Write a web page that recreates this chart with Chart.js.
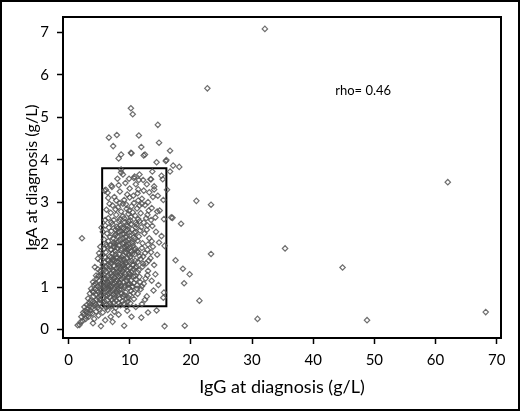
<!DOCTYPE html>
<html>
<head>
<meta charset="utf-8">
<script src="https://cdn.jsdelivr.net/npm/chart.js@4"></script>
<style>
  body { margin: 0; background: #fff; }
  canvas { display: block; }
</style>
</head>
<body>
<canvas id="chart" width="520" height="411"></canvas>
<script>
// IgG (x) vs IgA (y) at diagnosis, g/L
const outliers = [
  [32.1,7.08],[22.7,5.68],[62.0,3.47],[35.4,1.91],[44.8,1.46],[30.9,0.25],[48.8,0.22],[68.2,0.41],
  [23.3,2.94],[20.9,3.03],[23.3,1.78],[21.4,0.68],[19.0,0.09],[15.7,0.08],[2.2,2.15]
];
const upperCloud = [
  [10.2,5.21],[10.5,5.07],[14.6,4.82],[6.6,4.52],[7.9,4.58],[11.5,4.57],[7.3,4.32],[14.8,4.40],
  [11.9,4.30],[10.2,4.16],[12.5,4.12],[8.6,4.12],[8.2,4.03],[16.6,4.21],[14.4,3.94],[16.0,3.99],
  [17.1,3.86],[18.1,3.83],[16.6,3.72],[15.4,3.54],[16.1,3.29],[10.3,4.15],[15.9,3.97],[12.3,4.10]
];
const bandA = [
  [6.1,3.29],[6.4,3.22],[7.1,3.36],[7.0,3.39],[5.9,3.27],[10.0,3.32],[11.4,3.30],[14.0,3.37],
  [14.0,3.30],[12.3,3.27],[11.3,3.21],[13.2,3.23],[7.8,3.04],[10.0,3.11],[11.4,3.04],[13.0,3.00],
  [6.7,2.96],[8.9,2.96],[8.6,3.70],[8.9,3.65],[10.8,3.60],[11.6,3.65],[13.5,3.54],[15.2,3.62],
  [10.7,3.57],[11.5,3.52],[12.2,3.52],[13.4,3.54],[9.3,3.45],[8.2,3.40],[12.8,3.42],[9.6,3.18],
  [8.4,3.25],[10.6,3.15],[12.0,3.08],[9.1,3.05],[14.6,3.15],[7.5,3.12],[11.0,3.42],[9.9,3.55],
  [8.0,3.55],[13.8,3.12],[15.5,3.05],[6.5,3.10],[8.6,3.77],[13.7,3.72]
];
const bandB = [
  [7.2,2.92],[8.1,2.88],[9.4,2.95],[10.3,2.90],[11.2,2.85],[12.5,2.93],[13.6,2.86],[14.5,2.78],
  [6.2,2.82],[6.9,2.75],[7.8,2.70],[8.6,2.78],[9.8,2.72],[10.9,2.68],[11.8,2.74],[12.9,2.70],
  [6.5,2.62],[7.4,2.58],[8.3,2.55],[9.1,2.62],[10.1,2.57],[11.4,2.60],[12.3,2.52],[13.5,2.58],
  [14.2,2.64],[15.6,2.60],[17.0,2.63],[18.4,2.49],[16.8,2.64],[9.5,2.84],[10.7,2.98],[8.9,2.67],
  [11.0,2.52],[7.0,2.52],[12.0,2.96],[13.1,2.80],[9.9,2.80],[8.4,2.98],[10.5,2.76],[6.0,2.58],
  [11.6,2.92],[9.2,2.53],[7.7,2.83],[14.9,2.80],[12.7,2.62]
];
const bandC = [
  [6.0,2.45],[6.6,2.40],[7.2,2.48],[7.9,2.42],[8.5,2.46],[9.0,2.38],[9.7,2.44],[10.4,2.36],
  [11.1,2.47],[11.9,2.41],[12.8,2.35],[13.7,2.44],[5.6,2.30],[6.3,2.26],[7.0,2.32],[7.6,2.22],
  [8.2,2.30],[8.8,2.25],[9.4,2.33],[10.0,2.21],[10.8,2.28],[11.5,2.19],[12.4,2.26],[13.2,2.15],
  [14.3,2.30],[5.8,2.12],[6.5,2.08],[7.3,2.15],[7.9,2.05],[8.5,2.12],[9.1,2.04],[9.8,2.10],
  [10.5,2.02],[11.3,2.09],[12.1,2.03],[13.0,2.00],[14.8,2.05],[8.0,2.38],[9.3,2.18],[10.2,2.48],
  [6.8,2.18],[7.5,2.02],[8.7,2.40],[9.9,2.28],[11.7,2.33],[12.9,2.45],[6.2,2.00],[10.9,2.14],
  [7.7,2.35],[8.9,2.02],[13.6,2.08],[11.0,2.40],[9.5,2.47],[15.2,2.20],[5.4,2.40]
];
const bandD = [
  [5.2,1.95],[5.8,1.90],[6.3,1.96],[6.9,1.88],[7.4,1.97],[8.0,1.92],[8.6,1.86],[9.2,1.94],
  [9.8,1.89],[10.5,1.97],[11.2,1.85],[12.0,1.92],[12.9,1.88],[13.8,1.95],[15.7,1.97],[5.0,1.80],
  [5.5,1.75],[6.1,1.82],[6.7,1.72],[7.2,1.79],[7.8,1.70],[8.3,1.78],[8.9,1.74],[9.5,1.81],
  [10.1,1.71],[10.8,1.77],[11.6,1.73],[12.5,1.80],[13.4,1.68],[14.5,1.76],[4.8,1.67],[5.3,1.62],
  [5.9,1.58],[6.4,1.65],[7.0,1.55],[7.5,1.62],[8.1,1.57],[8.7,1.64],[9.3,1.54],[9.9,1.61],
  [10.6,1.52],[11.3,1.59],[12.2,1.55],[13.1,1.62],[14.0,1.52],[17.5,1.63],[6.0,1.70],[7.6,1.85],
  [8.4,1.66],[9.0,1.52],[10.3,1.84],[11.8,1.66],[6.6,1.53],[7.9,1.60],[9.6,1.68],[10.9,1.62],
  [8.2,1.98],[12.7,1.56],[5.6,1.52],[9.4,1.99],[7.3,1.66],[10.0,1.93],[11.0,1.90],[6.8,1.99],
  [13.5,1.82]
];
const bandE = [
  [4.3,1.47],[4.5,1.27],[4.0,1.12],[4.8,1.42],[5.2,1.38],[5.7,1.45],[6.2,1.36],[6.7,1.48],
  [7.2,1.40],[7.7,1.34],[8.2,1.46],[8.8,1.37],[9.3,1.44],[9.9,1.32],[10.6,1.42],[11.3,1.35],
  [12.1,1.48],[13.0,1.38],[14.2,1.30],[18.7,1.43],[19.8,1.30],[4.6,1.20],[5.0,1.15],[5.5,1.25],
  [6.0,1.18],[6.5,1.28],[7.0,1.14],[7.5,1.23],[8.0,1.16],[8.5,1.27],[9.0,1.12],[9.6,1.22],
  [10.2,1.15],[10.9,1.26],[11.7,1.12],[12.6,1.20],[13.6,1.15],[4.2,1.05],[4.7,1.02],[5.3,1.08],
  [5.8,1.02],[6.3,1.06],[6.8,1.01],[7.3,1.07],[7.8,1.03],[8.4,1.09],[9.2,1.03],[9.8,1.06],
  [10.5,1.01],[11.2,1.04],[12.3,1.08],[14.7,1.05],[18.9,1.09],[6.9,1.32],[7.9,1.45],[8.6,1.18],
  [9.5,1.40],[5.9,1.40],[10.1,1.30],[11.0,1.18],[7.4,1.50],[6.4,1.12],[8.9,1.50],[5.4,1.32],
  [7.1,1.26],[9.7,1.49],[12.9,1.28],[8.1,1.06],[6.1,1.48],[10.7,1.10]
];
const bandF = [
  [3.7,0.96],[3.2,0.73],[2.6,0.53],[3.5,0.85],[3.9,0.90],[4.1,0.78],[4.4,0.95],[4.6,0.70],
  [4.9,0.88],[5.1,0.62],[5.4,0.93],[5.7,0.76],[6.0,0.97],[6.3,0.68],[6.6,0.85],[6.9,0.58],
  [7.2,0.92],[7.5,0.74],[7.9,0.86],[8.2,0.63],[8.6,0.95],[8.9,0.78],[9.3,0.88],[9.7,0.66],
  [10.2,0.91],[10.7,0.72],[11.3,0.84],[12.0,0.60],[12.8,0.78],[13.9,0.92],[15.6,0.87],[15.5,0.75],
  [3.4,0.62],[3.0,0.58],[4.2,0.56],[4.8,0.52],[5.5,0.55],[6.2,0.52],[7.0,0.55],[7.7,0.51],
  [8.5,0.57],[9.5,0.54],[11.0,0.53],[5.2,0.80],[6.5,0.99],[7.4,0.64],[8.0,0.97],[9.0,0.60],
  [10.0,0.81],[5.9,0.66],[4.0,0.66],[6.8,0.76],[8.3,0.73],[9.9,0.98],[11.8,0.95],[4.5,0.82],
  [7.8,0.68],[12.5,0.70]
];
const bandG = [
  [1.5,0.10],[1.8,0.11],[2.1,0.30],[2.3,0.20],[2.5,0.35],[2.8,0.25],[3.0,0.42],[3.3,0.30],
  [3.6,0.45],[3.9,0.38],[4.2,0.25],[4.5,0.42],[4.9,0.33],[5.3,0.08],[5.6,0.40],[6.0,0.22],
  [6.4,0.46],[6.9,0.30],[7.5,0.42],[8.2,0.35],[9.1,0.09],[9.6,0.44],[10.3,0.30],[11.9,0.28],
  [13.0,0.40],[14.4,0.45],[2.0,0.18],[4.0,0.15],[5.0,0.48],[7.2,0.18]
];
const coreExtra = [
  [7.3,0.83],[7.6,1.09],[7.9,1.28],[8.1,1.52],[8.3,0.94],[8.5,1.33],[8.7,1.70],[8.9,2.15],
  [9.1,0.82],[9.2,1.25],[9.4,1.58],[9.6,1.95],[9.8,0.75],[10.0,1.08],[10.1,1.45],[10.3,1.62],
  [10.4,2.05],[10.6,1.25],[10.8,1.88],[11.0,2.30],[7.1,0.70],[7.4,1.38],[7.7,1.77],[8.0,2.20],
  [8.4,2.60],[8.8,0.66],[9.0,1.42],[9.3,1.82],[9.7,2.35],[10.2,2.65],[6.6,0.93],[6.9,1.17],
  [7.2,1.62],[7.5,1.93],[7.8,2.25],[8.6,1.02],[9.5,1.15],[9.9,1.76],[10.5,1.52],[11.1,1.48],
  [6.4,0.80],[6.7,1.40],[7.0,1.70],[8.2,1.25],[8.8,1.55],[9.4,2.08],[10.7,2.18],[11.4,1.82],
  [11.6,2.55],[12.2,1.72],[5.8,0.86],[6.1,1.10],[6.8,0.62],[7.6,0.80],[8.0,1.35],[8.7,1.90],
  [9.1,2.25],[9.8,2.55],[10.4,1.00],[11.5,1.40]
];
const lowerCore = [
  [5.1,0.70],[5.4,0.86],[5.6,1.00],[5.9,1.21],[6.2,0.58],[6.4,0.95],[6.7,1.05],[6.9,0.88],
  [7.1,1.02],[7.3,1.18],[7.5,0.96],[7.7,1.14],[7.9,0.92],[8.1,0.81],[8.3,1.12],[8.5,1.42],
  [8.7,0.84],[8.9,1.22],[9.1,0.99],[9.3,1.31],[9.5,0.72],[9.7,1.06],[9.9,1.24],[10.1,0.62],
  [10.3,1.36],[10.6,0.86],[10.9,1.46],[11.2,0.96],[11.6,1.24],[12.0,1.02],[3.1,0.48],[3.4,0.55],
  [3.6,0.68],[3.8,0.52],[4.1,0.88],[4.3,0.62],[4.5,0.58],[4.7,0.92],[4.9,0.76],[5.2,1.02],
  [5.5,0.66],[5.7,1.12],[6.0,0.80],[6.3,1.24],[2.4,0.40],[2.7,0.44],[2.9,0.30],[3.5,0.38],
  [4.4,1.08],[4.9,1.26],[6.5,1.62],[7.0,1.88],[7.4,2.05],[7.9,1.68],[8.2,2.08],[8.6,2.32],
  [9.0,1.66],[9.5,1.88],[9.9,2.14],[10.4,1.78]
];

// reference box drawn on the figure (IgG, IgA corners)
const boxIgG = [5.5, 16.0, 16.0, 5.5, 5.5];
const boxIgA = [0.55, 0.55, 3.8, 3.8, 0.55];

const xTickValues = [0, 10, 20, 30, 40, 50, 60, 70];
const yTickValues = [0, 1, 2, 3, 4, 5, 6, 7];
const rhoLabel = { text: 'rho= 0.46', igG: 43.6, igA: 5.62 };

const FONT = 'Lato, "Noto Sans", sans-serif';

const allPoints = [].concat(outliers, upperCloud, bandA, bandB, bandC, bandD, bandE, bandF, bandG, coreExtra, lowerCore)
  .map(p => ({ x: p[0], y: p[1] }));
const boxPoints = boxIgG.map((x, i) => ({ x: x, y: boxIgA[i] }));

const framePlugin = {
  id: 'frame',
  afterDatasetsDraw(chart) {
    const ctx = chart.ctx;
    const a = chart.chartArea;
    ctx.save();
    ctx.strokeStyle = '#000';
    ctx.lineWidth = 2;
    ctx.strokeRect(a.left, a.top, a.right - a.left, a.bottom - a.top);
    // outer picture border
    ctx.strokeRect(1, 1, chart.width - 2, chart.height - 2);
    // rho annotation
    const xs = chart.scales.x, ys = chart.scales.y;
    ctx.fillStyle = '#000';
    ctx.font = '13px ' + FONT;
    ctx.textAlign = 'left';
    ctx.textBaseline = 'middle';
    ctx.fillText(rhoLabel.text, xs.getPixelForValue(rhoLabel.igG), ys.getPixelForValue(rhoLabel.igA));
    ctx.restore();
  }
};

new Chart(document.getElementById('chart'), {
  type: 'scatter',
  data: {
    datasets: [
      {
        label: 'patients',
        data: allPoints,
        pointStyle: 'rectRot',
        pointRadius: 2.7,
        pointBorderWidth: 1.2,
        borderColor: 'rgba(85,85,85,0.85)',
        backgroundColor: 'rgba(255,255,255,0)'
      },
      {
        label: 'box',
        data: boxPoints,
        showLine: true,
        pointRadius: 0,
        borderColor: '#000',
        borderWidth: 2
      }
    ]
  },
  options: {
    responsive: false,
    animation: false,
    layout: { padding: { left: 0, top: 15, right: 19, bottom: 0 } },
    plugins: { legend: { display: false }, tooltip: { enabled: false } },
    scales: {
      x: {
        type: 'linear',
        min: -0.9,
        max: 70.7,
        afterBuildTicks: s => { s.ticks = xTickValues.map(v => ({ value: v })); },
        afterFit: s => { s.height = 73; },
        border: { display: false },
        grid: { drawOnChartArea: false, drawTicks: true, tickLength: 6, tickColor: '#000', tickWidth: 1.5 },
        ticks: { color: '#000', font: { family: FONT, size: 15 }, padding: 7, maxRotation: 0 },
        title: { display: true, text: 'IgG at diagnosis (g/L)', color: '#000',
                 font: { family: FONT, size: 18 }, padding: { top: 0, bottom: 13 } }
      },
      y: {
        type: 'linear',
        min: -0.2,
        max: 7.36,
        afterBuildTicks: s => { s.ticks = yTickValues.map(v => ({ value: v })); },
        afterFit: s => { s.width = 63; },
        border: { display: false },
        grid: { drawOnChartArea: false, drawTicks: true, tickLength: 6, tickColor: '#000', tickWidth: 1.5 },
        ticks: { color: '#000', font: { family: FONT, size: 15 }, padding: 8 },
        title: { display: true, text: 'IgA at diagnosis (g/L)', color: '#000',
                 font: { family: FONT, size: 16 }, padding: { top: 22, bottom: 0 } }
      }
    }
  },
  plugins: [framePlugin]
});
</script>
</body>
</html>
